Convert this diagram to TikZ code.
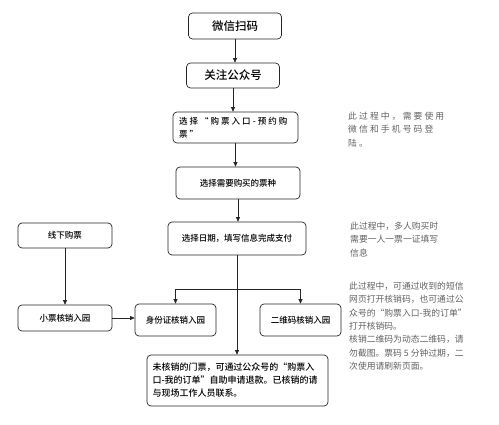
\documentclass[tikz,border=0pt]{standalone}
\usepackage{fontspec}
\setmainfont{Noto Sans CJK SC}[BoldFont={Noto Sans CJK SC Medium}]
\usetikzlibrary{arrows.meta, positioning}

\tikzset{
  stepbox/.style={draw=black!85, rounded corners=4pt, line width=0.7pt, align=center,
    inner sep=0pt, font=\bfseries\fontsize{8.5}{13}\selectfont},
  bigbox/.style={stepbox, font=\bfseries\fontsize{11.5}{14}\selectfont},
  note/.style={anchor=north west, align=left, inner sep=0pt, text=black!62,
    font=\fontsize{8.8}{13.3}\selectfont},
  arr/.style={-{Triangle[length=4.5pt,width=4pt]}, draw=black!85, line width=0.7pt},
}

\begin{document}
\begin{tikzpicture}[x=1pt, y=-1pt]
  \useasboundingbox (0,0) rectangle (499,424);
  % main column
  \node[bigbox, minimum width=93pt, minimum height=26pt] (scan) at (235,26) {微信扫码};
  \node[bigbox, minimum width=93pt, minimum height=25pt] (follow) at (233,75.5) {关注公众号};
  \node[stepbox, minimum width=125pt, minimum height=31pt, text width=113pt, align=left,
    font=\bfseries\fontsize{8.5}{13}\selectfont\addfontfeature{LetterSpace=24}]
    (entry) at (235.5,127.5) {选择“购票入口-预约购\\票”};
  \node[stepbox, minimum width=124pt, minimum height=32pt] (kind) at (238,183) {选择需要购买的票种};
  \node[stepbox, minimum width=138pt, minimum height=33pt] (pay) at (237,238.5) {选择日期，填写信息完成支付};
  % offline branch
  \node[stepbox, minimum width=94pt, minimum height=25pt] (offline) at (65,235.5) {线下购票};
  \node[stepbox, minimum width=94pt, minimum height=26pt] (stub) at (65,318) {小票核销入园};
  % entry gates
  \node[stepbox, minimum width=81pt, minimum height=32pt] (idcard) at (175.5,320) {身份证核销入园};
  \node[stepbox, minimum width=81pt, minimum height=32pt] (qr) at (300.5,320) {二维码核销入园};
  \node[stepbox, minimum width=181pt, minimum height=51pt, text width=170pt, align=left,
    font=\bfseries\fontsize{9}{13}\selectfont]
    (refund) at (237.5,380.5) {未核销的门票，可通过公众号的“购票入\\口-我的订单”自助申请退款。已核销的请\\与现场工作人员联系。};
  % connectors
  \draw[arr] (scan.south) -- (scan.south |- follow.north);
  \draw[arr] (follow.south) -- (follow.south |- entry.north);
  \draw[arr] (entry.south) -- (entry.south |- kind.north);
  \draw[arr] (kind.south) -- (kind.south |- pay.north);
  \draw[arr] (pay.south) -- (pay.south |- refund.north);
  \coordinate (split) at (237,289);
  \draw[arr] (split) -| (idcard.north);
  \draw[arr] (split) -| (qr.north);
  \draw[arr] (offline) -- (stub);
  \draw[arr] (stub.east) -- (stub.east -| idcard.west);
  % notes on the right
  \node[note, font=\fontsize{8.8}{13.3}\selectfont\addfontfeature{LetterSpace=24}]
    (note1) at (348,112) {此过程中，需要使用\\微信和手机号码登\\陆。};
  \node[note] (note2) at (350,222) {此过程中，多人购买时\\需要一人一票一证填写\\信息};
  \node[note] (note3) at (349,282) {此过程中，可通过收到的短信\\网页打开核销码，也可通过公\\众号的“购票入口-我的订单”\\打开核销码。\\核销二维码为动态二维码，请\\勿截图。票码 5 分钟过期，二\\次使用请刷新页面。};
\end{tikzpicture}
\end{document}
